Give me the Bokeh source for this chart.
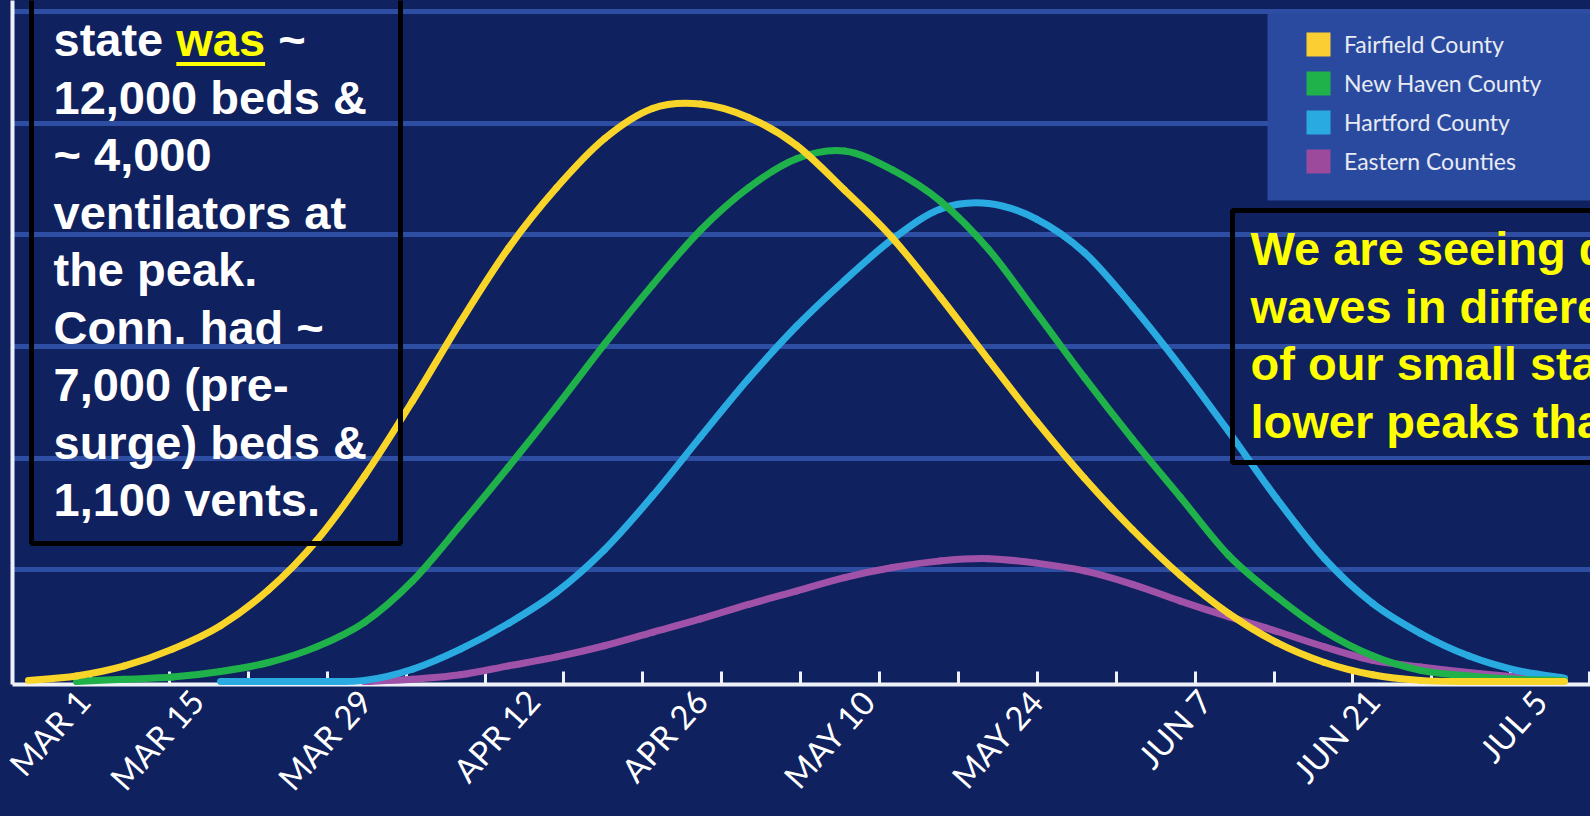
import numpy as np
from bokeh.plotting import figure
from bokeh.models import (Range1d, FixedTicker, BoxAnnotation, Legend, LegendItem,
                          ColumnDataSource, GlobalInlineStyleSheet)
from bokeh.core.properties import value
from bokeh.embed import file_html
from bokeh.resources import INLINE

NAN = float("nan")

# ---------------- data ----------------
# days since MAR 1, sampled every 4 days
days = list(range(0, 129, 4))

fairfield = [0.01, 0.05, 0.14, 0.29, 0.50, 0.82, 1.26, 1.84, 2.51, 3.22, 3.88,
             4.42, 4.86, 5.13, 5.17, 5.05, 4.80, 4.40, 3.97, 3.44, 2.88, 2.33,
             1.82, 1.36, 0.95, 0.61, 0.35, 0.17, 0.06, 0.01, 0.0, 0.0, 0.0]
new_haven = [NAN, 0.0, 0.02, 0.04, 0.09, 0.17, 0.31, 0.53, 0.90, 1.40, 1.92,
             2.46, 3.02, 3.55, 4.04, 4.42, 4.68, 4.75, 4.58, 4.30, 3.87, 3.30,
             2.72, 2.17, 1.65, 1.13, 0.76, 0.45, 0.23, 0.10, 0.05, 0.02, 0.01]
hartford = [NAN, NAN, NAN, NAN, 0.0, 0.0, 0.0, 0.01, 0.11, 0.29, 0.52,
            0.80, 1.18, 1.66, 2.19, 2.71, 3.18, 3.59, 3.96, 4.23, 4.28, 4.14,
            3.84, 3.36, 2.82, 2.24, 1.64, 1.10, 0.70, 0.43, 0.23, 0.10, 0.03]
eastern = [NAN, NAN, NAN, NAN, NAN, NAN, NAN, 0.0, 0.02, 0.06, 0.14,
           0.22, 0.32, 0.44, 0.56, 0.69, 0.81, 0.93, 1.02, 1.08, 1.10, 1.06,
           0.99, 0.87, 0.72, 0.58, 0.45, 0.31, 0.19, 0.13, 0.08, 0.04, 0.01]

series_names = ["Fairfield County", "New Haven County", "Hartford County", "Eastern Counties"]
series_values = [fairfield, new_haven, hartford, eastern]

tick_days = [0, 14, 28, 42, 56, 70, 84, 98, 112, 126]
tick_labels = ["MAR 1", "MAR 15", "MAR 29", "APR 12", "APR 26",
               "MAY 10", "MAY 24", "JUN 7", "JUN 21", "JUL 5"]

left_note = ["12,000 beds &", "~ 4,000", "ventilators at", "the peak.",
             "Conn. had ~", "7,000 (pre-", "surge) beds &", "1,100 vents."]
right_note = ["We are seeing distinct", "waves in different parts",
              "of our small state with", "lower peaks than NYC."]

# ---------------- styles ----------------
NAVY = "#0f215e"
GRID = "#2d4ea3"
LEG_BG = "#2a4a9f"
line_colors = ["#f9d52a", "#1fb24b", "#29abe2", "#9f52a8"]
square_colors = ["#fbcf33", "#1fb24b", "#29abe2", "#9b4a9c"]

# pixel geometry helpers (page pixels -> data units)
X0_PX, PX_PER_DAY = 28.0, 12.0
Y0_PX, PX_PER_UNIT = 681.0, 111.7
TEXT_SHIFT = 19  # compensates the renderer's baseline offset


def dx(px):
    return (px - X0_PX) / PX_PER_DAY


def vy(py):
    return (Y0_PX - py) / PX_PER_UNIT


def catmull_bezier(xs, ys):
    """Smooth curve through the read points (Catmull-Rom -> cubic Bezier)."""
    pts = [(float(x), float(y)) for x, y in zip(xs, ys) if not np.isnan(y)]
    n = len(pts)
    out = {k: [] for k in ("x0", "y0", "x1", "y1", "cx0", "cy0", "cx1", "cy1")}
    for i in range(n - 1):
        p0 = pts[max(i - 1, 0)]
        p1 = pts[i]
        p2 = pts[i + 1]
        p3 = pts[min(i + 2, n - 1)]
        out["x0"].append(p1[0]); out["y0"].append(p1[1])
        out["x1"].append(p2[0]); out["y1"].append(p2[1])
        out["cx0"].append(p1[0] + (p2[0] - p0[0]) / 6.0)
        out["cy0"].append(p1[1] + (p2[1] - p0[1]) / 6.0)
        out["cx1"].append(p2[0] - (p3[0] - p1[0]) / 6.0)
        out["cy1"].append(p2[1] - (p3[1] - p1[1]) / 6.0)
    return out


W, H = 1590, 816
p = figure(width=W, height=H, output_backend="svg", toolbar_location=None,
           x_range=Range1d(dx(12), dx(1590)), y_range=Range1d(vy(684), vy(0)),
           min_border_left=12, min_border_right=0, min_border_top=0, min_border_bottom=132,
           background_fill_color=NAVY, border_fill_color=NAVY, outline_line_color=None)
p.stylesheets = [GlobalInlineStyleSheet(css="html, body { background-color: #0f215e; }")]

# grid
p.xgrid.visible = False
p.ygrid.ticker = FixedTicker(ticks=[1, 2, 3, 4, 5, 6])
p.ygrid.grid_line_color = GRID
p.ygrid.grid_line_width = 5

# y axis: line only
p.yaxis.ticker = FixedTicker(ticks=[])
p.yaxis.major_tick_out = 0
p.yaxis.major_tick_in = 0
p.yaxis.major_label_standoff = 0
p.yaxis.axis_line_color = "#eef1f8"
p.yaxis.axis_line_width = 4

# x axis
minor = [dx(90 + 78.9 * k) for k in range(20)]
xa = p.xaxis[0]
xa.ticker = FixedTicker(ticks=tick_days, minor_ticks=minor)
xa.major_label_overrides = {d: lab for d, lab in zip(tick_days, tick_labels)}
xa.major_label_orientation = 0.84
xa.major_label_text_font = "Lato"
xa.major_label_text_font_size = "33px"
xa.major_label_text_color = "white"
xa.major_label_standoff = 10
xa.major_tick_line_color = None
xa.major_tick_out = 0
xa.major_tick_in = 0
xa.minor_tick_line_color = "#eef1f8"
xa.minor_tick_line_width = 3
xa.minor_tick_in = 13
xa.minor_tick_out = 0
xa.axis_line_color = "#eef1f8"
xa.axis_line_width = 4

# curves (drawn bottom to top: eastern, hartford, new haven, fairfield)
for name, vals, col in reversed(list(zip(series_names, series_values, line_colors))):
    src = ColumnDataSource(catmull_bezier(days, vals))
    p.bezier(x0="x0", y0="y0", x1="x1", y1="y1", cx0="cx0", cy0="cy0", cx1="cx1", cy1="cy1",
             source=src, line_color=col, line_width=7, line_cap="round", level="annotation")

# text boxes
TXT = dict(text_font=value("Liberation Sans"), text_font_style="bold",
           text_font_size="47px", text_baseline="alphabetic", text_align="left")
left_x = dx(53)
first_y = vy(58 - TEXT_SHIFT)
p.text(x=[left_x], y=[first_y], text=["state"], text_color="white", **TXT)
p.text(x=[dx(53 + 122.8)], y=[first_y], text=["was"], text_color="#ffff00", **TXT)
p.text(x=[dx(53 + 224.7)], y=[first_y], text=["~"], text_color="white", **TXT)
p.segment(x0=[dx(53 + 122.8)], x1=[dx(53 + 211.6)], y0=[vy(63.5)], y1=[vy(63.5)],
          line_color="#ffff00", line_width=4)
p.text(x=[left_x] * len(left_note),
       y=[vy(58 + 57.5 * (k + 1) - TEXT_SHIFT) for k in range(len(left_note))],
       text=left_note, text_color="white", **TXT)
p.text(x=[dx(1250)] * len(right_note),
       y=[vy(267 + 57.7 * k - TEXT_SHIFT) for k in range(len(right_note))],
       text=right_note, text_color="#ffff00", **TXT)

p.add_layout(BoxAnnotation(left=dx(31), right=dx(400), bottom=vy(543), top=vy(-60),
                           fill_alpha=0, line_color="black", line_alpha=1, line_width=5,
                           level="annotation"))
p.add_layout(BoxAnnotation(left=dx(1232), right=dx(1680), bottom=vy(462), top=vy(210),
                           fill_alpha=0, line_color="black", line_alpha=1, line_width=5,
                           level="annotation"))
p.add_layout(BoxAnnotation(left=dx(1267), right=dx(1680), bottom=vy(200), top=vy(13),
                           fill_color=LEG_BG, fill_alpha=1, line_color=None,
                           level="annotation"))

# legend with square swatches
items = []
for name, col in zip(series_names, square_colors):
    r = p.quad(left=np.array([NAN]), right=np.array([NAN]), top=np.array([NAN]),
               bottom=np.array([NAN]), fill_color=col, line_color=None)
    items.append(LegendItem(label=name, renderers=[r]))
legend = Legend(items=items, location=(1291, 508), margin=0, padding=10, spacing=9,
                glyph_width=30, glyph_height=30, label_standoff=11,
                label_text_font="Lato", label_text_font_size="23px",
                label_text_color="#e8ebf3", background_fill_alpha=0,
                border_line_color=None)
p.add_layout(legend)

open("out.html", "w").write(file_html(p, INLINE))
